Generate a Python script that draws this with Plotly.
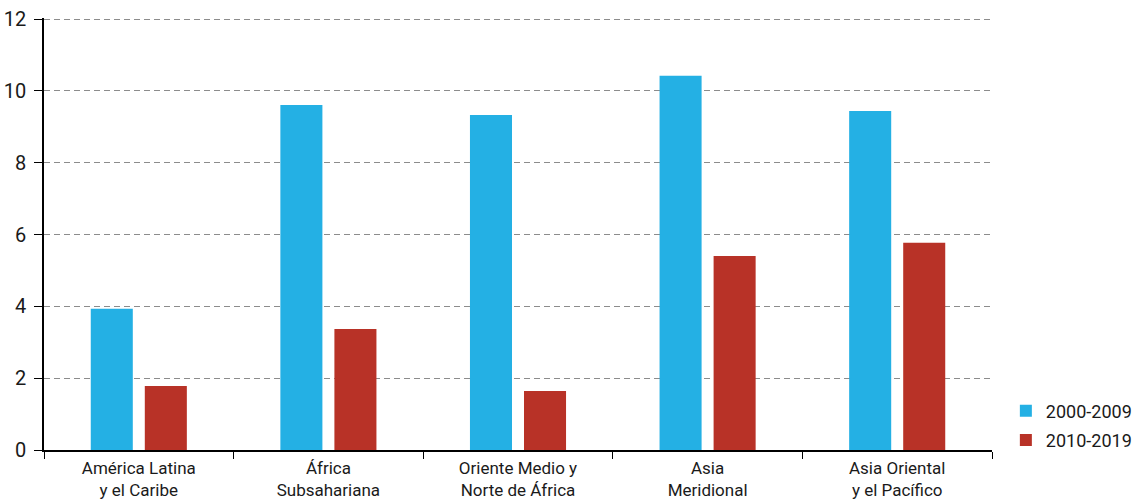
import plotly.graph_objects as go

categories = ["América Latina<br>y el Caribe", "África<br>Subsahariana", "Oriente Medio y<br>Norte de África",
              "Asia<br>Meridional", "Asia Oriental<br>y el Pacífico"]
series_2000_2009 = [3.93, 9.61, 9.33, 10.42, 9.44]
series_2010_2019 = [1.78, 3.37, 1.64, 5.40, 5.77]
y_ticks = [0, 2, 4, 6, 8, 10, 12]

FONT = "Roboto, sans-serif"

fig = go.Figure()
fig.add_trace(go.Bar(x=categories, y=series_2000_2009, name="2000-2009", legendgroup="a",
                     marker=dict(color="#24B0E4", line=dict(width=0))))
fig.add_trace(go.Bar(x=categories, y=series_2010_2019, name="2010-2019", legendgroup="b",
                     marker=dict(color="#B83227", line=dict(width=0))))

fig.update_layout(
    width=1138, height=500,
    margin=dict(l=44, r=146, t=18, b=50),
    barmode="group", bargap=0.43, bargroupgap=0.222,
    plot_bgcolor="white", paper_bgcolor="white",
    font=dict(family=FONT, size=17, color="#1a1a1a"),
    legend=dict(xref="container", yref="container", x=0.999, y=0.083,
                xanchor="right", yanchor="bottom",
                font=dict(size=18, family=FONT), traceorder="grouped", tracegroupgap=3),
    showlegend=True,
)
fig.update_xaxes(showline=True, linecolor="black", linewidth=1.5, automargin=False,
                 ticks="outside", tickson="boundaries", ticklen=7, tickcolor="black",
                 ticklabelstandoff=2,
                 tickfont=dict(size=17, family=FONT), showgrid=False)
fig.update_yaxes(range=[0, 12.03], tickvals=y_ticks, showline=True, linecolor="black", linewidth=1.5,
                 automargin=False, ticks="outside", ticklen=8, tickcolor="black",
                 ticklabelstandoff=4,
                 tickfont=dict(size=20, family=FONT),
                 showgrid=True, gridcolor="#8c8c8c", griddash="6px,4px", gridwidth=1,
                 zeroline=False)

fig.write_html("out.html", config={"displayModeBar": False},
               post_script="document.body.style.margin='0px';document.body.style.overflow='hidden';")
